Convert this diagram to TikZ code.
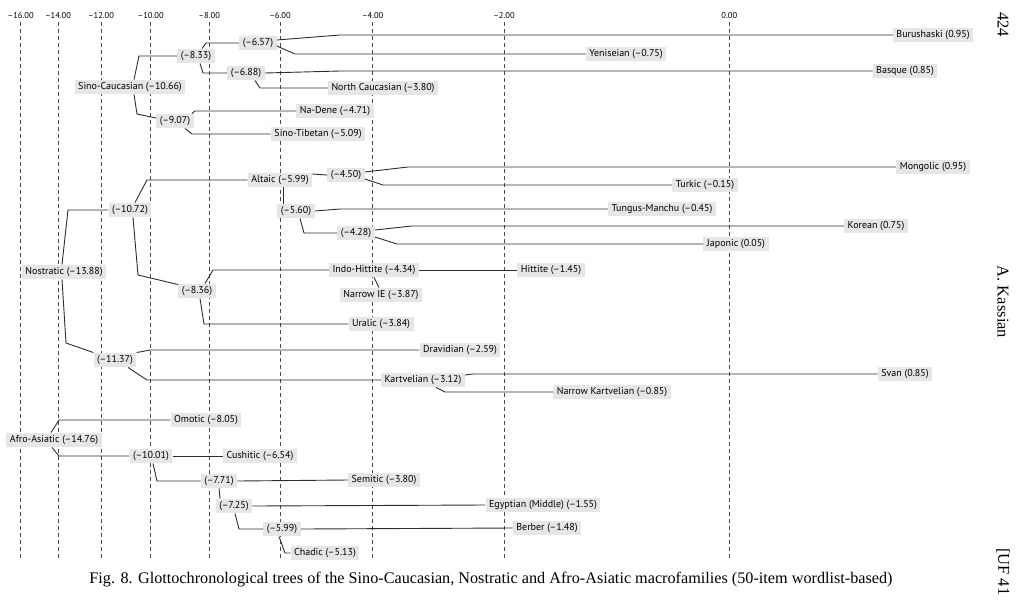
\documentclass[tikz,border=0pt]{standalone}
\usepackage{fontspec}
\setmainfont{Liberation Serif}
\newfontfamily\lblfont{PT Sans}
\definecolor{boxgray}{HTML}{E6E6E6}
\definecolor{linegray}{HTML}{2E2E2E}
\definecolor{gridgray}{HTML}{4A4A4A}
\begin{document}
\begin{tikzpicture}[x=1pt,y=-1pt,
  lbl/.style={fill=boxgray, font=\lblfont\fontsize{10}{12}\selectfont, inner xsep=3.5pt, inner ysep=2.25pt, text height=7.5pt, text depth=2.5pt},
  conn/.style={draw=linegray, line width=0.9pt},
  gridline/.style={draw=gridgray, line width=0.7pt, dash pattern=on 4pt off 3pt},
  axlbl/.style={font=\lblfont\fontsize{8.5}{10}\selectfont, inner sep=0pt},
  side/.style={font=\fontsize{16.5}{18}\selectfont, rotate=-90, inner sep=0pt}]
\useasboundingbox (0,0) rectangle (1024,603);
\fill[white] (0,0) rectangle (1024,603);
% axis
\foreach \x/\t in {20.7/–16.00, 58/–14.00, 101/–12.00, 150.7/–10.00, 209.3/–8.00, 280/–6.00, 372.7/–4.00, 504/–2.00, 729.3/0.00}{
  \node[axlbl] at (\x,16) {\t};
  \draw[gridline] (\x,22) -- (\x,558);
}
% Sino-Caucasian
\node[lbl] (sc) at (130,87) {Sino-Caucasian (–10.66)};
\node[lbl] (n833) at (196,56) {(–8.33)};
\node[lbl] (n657) at (258,43) {(–6.57)};
\node[lbl] (n688) at (246,73) {(–6.88)};
\node[lbl] (n907) at (175,121) {(–9.07)};
\node[lbl] (bur) at (933,35) {Burushaski (0.95)};
\node[lbl] (yen) at (626,54) {Yeniseian (–0.75)};
\node[lbl] (bas) at (905,71) {Basque (0.85)};
\node[lbl] (nc) at (383,88) {North Caucasian (–3.80)};
\node[lbl] (nad) at (335,111) {Na-Dene (–4.71)};
\node[lbl] (st) at (318,134) {Sino-Tibetan (–5.09)};
% Nostratic
\node[lbl] (nos) at (64,272) {Nostratic (–13.88)};
\node[lbl] (n1072) at (130,210) {(–10.72)};
\node[lbl] (n1137) at (115,360) {(–11.37)};
\node[lbl] (alt) at (280,180) {Altaic (–5.99)};
\node[lbl] (n450) at (346,175) {(–4.50)};
\node[lbl] (n560) at (296,211) {(–5.60)};
\node[lbl] (n428) at (356,233) {(–4.28)};
\node[lbl] (mon) at (933,167) {Mongolic (0.95)};
\node[lbl] (tur) at (705,185) {Turkic (–0.15)};
\node[lbl] (tm) at (662,209) {Tungus-Manchu (–0.45)};
\node[lbl] (kor) at (876,226) {Korean (0.75)};
\node[lbl] (jap) at (736,244) {Japonic (0.05)};
\node[lbl] (n836) at (197,291) {(–8.36)};
\node[lbl] (ih) at (374,270) {Indo-Hittite (–4.34)};
\node[lbl] (nie) at (381,295) {Narrow IE (–3.87)};
\node[lbl] (hit) at (551,270) {Hittite (–1.45)};
\node[lbl] (ura) at (381,324) {Uralic (–3.84)};
\node[lbl] (dra) at (460,350) {Dravidian (–2.59)};
\node[lbl] (kar) at (423,380) {Kartvelian (–3.12)};
\node[lbl] (sva) at (905,374) {Svan (0.85)};
\node[lbl] (nk) at (612,392) {Narrow Kartvelian (–0.85)};
% Afro-Asiatic
\node[lbl] (aa) at (54,440) {Afro-Asiatic (–14.76)};
\node[lbl] (omo) at (206,420) {Omotic (–8.05)};
\node[lbl] (n1001) at (151,456) {(–10.01)};
\node[lbl] (cus) at (260,456) {Cushitic (–6.54)};
\node[lbl] (n771) at (219,481) {(–7.71)};
\node[lbl] (sem) at (384,480) {Semitic (–3.80)};
\node[lbl] (n725) at (234,506) {(–7.25)};
\node[lbl] (egy) at (543,505) {Egyptian (Middle) (–1.55)};
\node[lbl] (n599) at (282,529) {(–5.99)};
\node[lbl] (ber) at (547,528) {Berber (–1.48)};
\node[lbl] (cha) at (325,553) {Chadic (–5.13)};
% connectors: Sino-Caucasian
\draw[conn] ([yshift=3pt]n657.east) -- (340,35) -- (bur.west);
\draw[conn] ([yshift=-3pt]n657.east) -- (295,54) -- (yen.west);
\draw[conn] ([xshift=6pt]n833.north) -- (206,43) -- (n657.west);
\draw[conn] ([xshift=4pt]n833.south) -- (203,73) -- (n688.west);
\draw[conn] (n688.east) -- (340,71) -- (bas.west);
\draw[conn] ([xshift=9pt]n688.south) -- (260,88) -- (nc.west);
\draw[conn] ([xshift=4pt]sc.north) -- (139,56) -- (n833.west);
\draw[conn] ([xshift=4pt]sc.south) -- (137,114) -- ([yshift=3pt]n907.west);
\draw[conn] ([xshift=-2pt]n907.north east) -- (195,111) -- (nad.west);
\draw[conn] ([xshift=10pt]n907.south) -- (192,134) -- (st.west);
% connectors: Nostratic
\draw[conn] ([xshift=-2pt]nos.north) -- (68,210) -- (n1072.west);
\draw[conn] ([xshift=-2pt]nos.south) -- (66,343) -- (n1137.north west);
\draw[conn] ([xshift=5pt]n1072.north) -- (147,180) -- (alt.west);
\draw[conn] ([xshift=3pt]n1072.south) -- (138,275) -- ([yshift=-1pt]n836.north west);
\draw[conn] ([yshift=6pt]alt.east) -- (n450.west);
\draw[conn] ([xshift=3pt]alt.south) -- ([xshift=-13pt]n560.north);
\draw[conn] ([yshift=3pt]n450.east) -- (408,167) -- (mon.west);
\draw[conn] ([yshift=-4pt]n450.east) -- (383,185) -- (tur.west);
\draw[conn] (n560.east) -- (340,209) -- (tm.west);
\draw[conn] ([xshift=4pt]n560.south) -- (304,233) -- (n428.west);
\draw[conn] ([yshift=3pt]n428.east) -- (412,226) -- (kor.west);
\draw[conn] ([yshift=-4pt]n428.east) -- (397,244) -- (jap.west);
\draw[conn] ([xshift=8pt]n836.north) -- (213,270) -- (ih.west);
\draw[conn] ([xshift=3pt]n836.south) -- (204,324) -- (ura.west);
\draw[conn] (ih.east) -- (hit.west);
\draw[conn] (ih.south) -- ([xshift=-2pt]nie.north);
\draw[conn] (n1137.north east) -- (150,350) -- (dra.west);
\draw[conn] ([xshift=13pt]n1137.south) -- (147,380) -- (kar.west);
\draw[conn] ([yshift=5pt]kar.east) -- (473,374) -- (sva.west);
\draw[conn] ([xshift=13pt]kar.south) -- (445,392) -- (nk.west);
% connectors: Afro-Asiatic
\draw[conn] ([xshift=-3pt]aa.north) -- (59,420) -- (omo.west);
\draw[conn] ([xshift=-2pt]aa.south) -- (59,456) -- (n1001.west);
\draw[conn] (n1001.east) -- (cus.west);
\draw[conn] ([xshift=2pt]n1001.south) -- (157,481) -- (n771.west);
\draw[conn] (n771.east) -- (sem.west);
\draw[conn] (n771.south) -- ([xshift=-14pt]n725.north);
\draw[conn] (n725.east) -- (egy.west);
\draw[conn] ([xshift=1pt]n725.south) -- (239,529) -- (n599.west);
\draw[conn] (n599.east) -- (ber.west);
\draw[conn] ([xshift=-3pt]n599.south) -- (285,553) -- (cha.west);
% caption and margin texts
\node[font=\fontsize{16.2}{18}\selectfont, inner sep=0pt, anchor=base] (cap) at (491,583) {Fig. 8. Glottochronological trees of the Sino-Caucasian, Nostratic and Afro-Asiatic macrofamilies (50-item wordlist-based)};
\node[side, anchor=west] (pg) at (1003,12) {424};
\node[side] (auth) at (1003,302) {A. Kassian};
\node[side, anchor=west] (uf) at (1003,548) {[UF 41};
\end{tikzpicture}
\end{document}
